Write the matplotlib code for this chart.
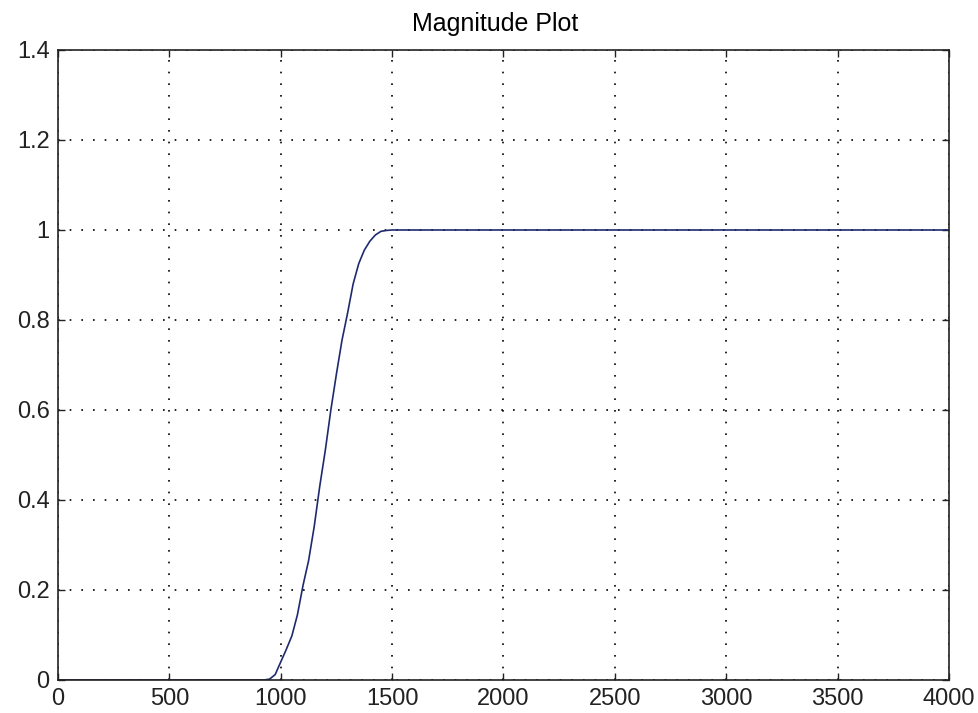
import matplotlib
matplotlib.use("Agg")
import matplotlib.pyplot as plt

# magnitude response
freq = [0, 900, 925, 950, 975, 1000, 1025, 1050, 1075, 1100, 1125, 1150, 1175, 1200,
        1225, 1250, 1275, 1300, 1325, 1350, 1375, 1400, 1425, 1450, 1475, 1500, 4000]
mag = [0, 0, 0, 0.002, 0.012, 0.04, 0.068, 0.098, 0.145, 0.21, 0.265, 0.34, 0.43, 0.51,
       0.6, 0.68, 0.755, 0.815, 0.88, 0.925, 0.955, 0.975, 0.989, 0.997, 0.999, 1.0, 1.0]

xticks = [0, 500, 1000, 1500, 2000, 2500, 3000, 3500, 4000]
yticks = [0, 0.2, 0.4, 0.6, 0.8, 1, 1.2, 1.4]
ylabels = ['0', '0.2', '0.4', '0.6', '0.8', '1', '1.2', '1.4']

plt.rcParams['font.family'] = ['Liberation Sans', 'DejaVu Sans']

fig = plt.figure(figsize=(9.79, 7.13), dpi=100)
ax = fig.add_axes([0.0592, 0.0463, 0.9102, 0.8836])

ax.plot(freq, mag, color='#1f2a6e', linewidth=1.2)

ax.set_xlim(0, 4000)
ax.set_ylim(0, 1.4)
ax.set_xticks(xticks)
ax.set_yticks(yticks)
ax.set_yticklabels(ylabels)
ax.tick_params(direction='in', length=5, width=1, labelsize=17, pad=6,
               top=True, right=True, colors='#222222')
ax.grid(True, linestyle=(0, (1, 6)), color='black', linewidth=1.2)

for s in ax.spines.values():
    s.set_linewidth(1.2)
    s.set_color('#222222')

ax.set_title('Magnitude Plot', fontsize=18, pad=14, x=0.491)

fig.savefig('out.png', dpi=100)
